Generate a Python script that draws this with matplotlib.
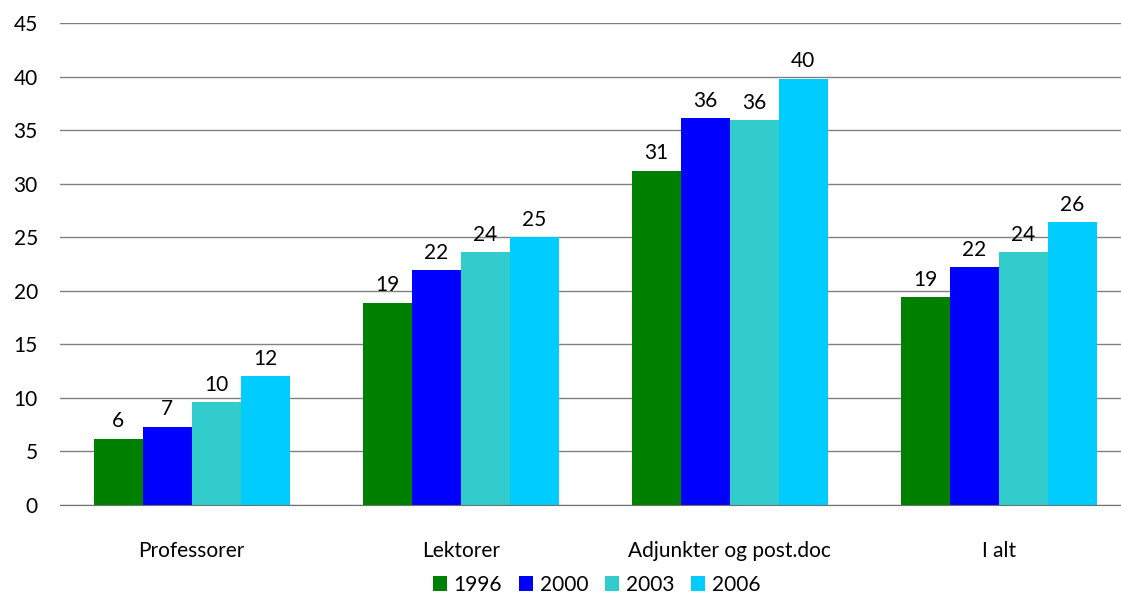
import numpy as np
import matplotlib.pyplot as plt

plt.rcParams['font.family'] = ['Lato', 'DejaVu Sans']

categories = ['Professorer', 'Lektorer', 'Adjunkter og post.doc', 'I alt']
years = ['1996', '2000', '2003', '2006']
v1996 = [6.2, 18.9, 31.2, 19.4]
v2000 = [7.3, 21.9, 36.1, 22.2]
v2003 = [9.6, 23.6, 35.9, 23.6]
v2006 = [12.0, 25.0, 39.8, 26.4]
series = [v1996, v2000, v2003, v2006]
colors = ['#008000', '#0000FF', '#33CCCC', '#00CCFF']

fig = plt.figure(figsize=(11.21, 5.98), dpi=100)
ax = fig.add_axes([0.0535, 0.1555, 0.9465, 0.806])

x = np.arange(len(categories))
w = 0.182
for i, (vals, col, yr) in enumerate(zip(series, colors, years)):
    pos = x + (i - 1.5) * w
    bars = ax.bar(pos, vals, w, color=col, label=yr, zorder=3)
    for b, v in zip(bars, vals):
        ax.text(b.get_x() + b.get_width() / 2, v + 0.7, f'{v:.0f}',
                ha='center', va='bottom', fontsize=15, color='black')

ax.set_ylim(0, 45)
ax.set_xlim(-0.49, 3.455)
ax.set_yticks(range(0, 46, 5))
ax.set_xticks(x)
ax.set_xticklabels(categories, fontsize=15)
ax.tick_params(axis='y', labelsize=15, length=0, pad=16)
ax.tick_params(axis='x', length=0, pad=26)
ax.grid(axis='y', color='#808080', linewidth=1, zorder=0)
for s in ['top', 'right', 'left']:
    ax.spines[s].set_visible(False)
ax.spines['bottom'].set_color('#707070')
ax.spines['bottom'].set_zorder(4)

fig.legend(*ax.get_legend_handles_labels(), loc='center', bbox_to_anchor=(0.532, 0.022),
           ncol=4, frameon=False, fontsize=15, borderpad=0, handlelength=0.7,
           handleheight=0.7, handletextpad=0.3, columnspacing=0.8)

fig.savefig('out.png', dpi=100)
